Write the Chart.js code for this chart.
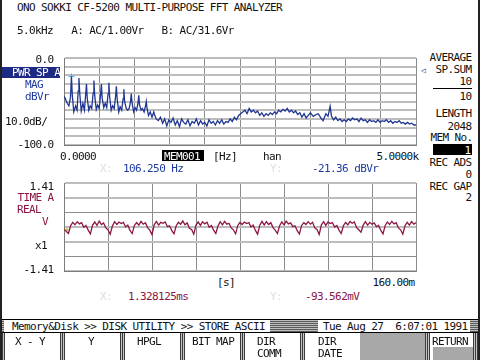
<!DOCTYPE html>
<html>
<head>
<meta charset="utf-8">
<script src="https://cdn.jsdelivr.net/npm/chart.js@4.4.1/dist/chart.umd.min.js"></script>
<style>
  body { margin: 0; background: #fff; }
  #screen { position: relative; width: 480px; height: 360px; background: #fff; overflow: hidden;
    font-family: "DejaVu Sans Mono", monospace; font-size: 11px; line-height: 11px; letter-spacing: -0.6px; color: #111; }
  #screen div, #screen canvas { position: absolute; }
  .r { text-align: right; white-space: pre; }
  .l { white-space: pre; }
  .blue { color: #1f3aa0; }
  .red { color: #8a1444; }
  .faint { color: #dedede; }
  .hatchH { background: repeating-linear-gradient(0deg, #5a5a5a 0 1px, #bdbdbd 1px 2px); }
  .hatchV { background: repeating-linear-gradient(90deg, #3a3a3a 0 1px, #c4c4c4 1px 2px); }
</style>
</head>
<body>
<div id="screen">
  <canvas id="specChart" width="362" height="97" style="left:59px;top:53px"></canvas>
  <canvas id="timeChart" width="362" height="98" style="left:59px;top:178px"></canvas>
</div>
<script>
// spectrum: PWR SP A, MAG, dBVr
const freqHz = [0, 20, 45, 70, 92, 106, 118, 139, 165, 186, 201, 212, 224, 245, 268, 290, 308, 319, 330, 352,
  372, 394, 414, 425, 436, 458, 478, 500, 520, 531, 542, 565, 585, 607, 626, 637, 648, 670, 690, 713,
  733, 744, 755, 778, 797, 820, 839, 850, 861, 884, 905, 926, 945, 956, 967, 990, 1010, 1031, 1051, 1062,
  1073, 1095, 1115, 1138, 1158, 1169, 1180, 1200, 1225, 1250, 1275, 1290, 1310, 1340, 1370, 1400, 1430, 1460, 1490, 1520,
  1550, 1580, 1610, 1640, 1670, 1700, 1730, 1760, 1790, 1820, 1850, 1880, 1910, 1940, 1970, 2000, 2030, 2060, 2090, 2120,
  2150, 2180, 2210, 2240, 2270, 2300, 2330, 2360, 2390, 2420, 2450, 2480, 2510, 2540, 2570, 2600, 2630, 2660, 2690, 2720,
  2750, 2780, 2810, 2840, 2870, 2900, 2930, 2960, 2990, 3020, 3050, 3080, 3110, 3140, 3170, 3200, 3230, 3260, 3290, 3320,
  3350, 3380, 3410, 3440, 3470, 3500, 3540, 3580, 3611, 3650, 3680, 3720, 3750, 3780, 3800, 3830, 3860, 3890, 3920, 3950,
  3980, 4010, 4040, 4070, 4100, 4130, 4160, 4190, 4220, 4250, 4280, 4310, 4340, 4370, 4400, 4430, 4460, 4490, 4520, 4550,
  4580, 4610, 4640, 4670, 4700, 4730, 4760, 4790, 4820, 4850, 4880, 4910, 4940, 4970, 5000];
const magDb = [-44, -47, -52, -55, -45, -21.4, -43, -62, -55, -60, -38, -23, -41, -61, -52, -60, -42, -30, -46, -60,
  -55, -58, -40, -26, -43, -59, -54, -58, -42, -30, -46, -57, -52, -57, -41, -28.5, -44, -60, -55, -58,
  -44, -32.5, -47, -62, -56, -60, -47, -36, -50, -58, -60, -58, -50, -41, -52, -62, -57, -60, -52, -43,
  -54, -60, -58, -62, -55, -50, -58, -66, -62, -68, -62, -66, -70, -72, -68, -75, -70, -78, -71, -74,
  -69, -77, -72, -79, -70, -74, -76, -71, -78, -73, -75, -70, -77, -72, -76, -74, -78, -71, -75, -73,
  -77, -72, -75, -71, -76, -73, -74, -70, -73, -68, -71, -66, -64, -62, -60, -64, -58, -62, -60, -63,
  -61, -66, -63, -67, -64, -66, -63, -65, -62, -64, -60, -62, -59, -61, -58, -62, -60, -63, -61, -65,
  -63, -68, -64, -69, -66, -63, -67, -65, -64, -69, -72, -64, -67, -55.5, -67, -71, -68, -72, -70, -73,
  -71, -73, -70, -72, -69, -71, -70, -73, -69, -72, -71, -74, -71, -73, -72, -74, -71, -74, -72, -73,
  -71, -74, -72, -75, -73, -74, -72, -75, -74, -76, -74, -76, -75, -77, -77];
const specCursor = { x: 106.25, y: -21.36 };

// time record: TIME A, REAL, V, one sample per ms
const SAMPLE_MS = 1;
const waveVolts = [-0.08, -0.14, -0.21,
  0.04, 0.15, 0.07, 0.17, 0.10, 0.14, -0.01, 0.05, -0.10, -0.22,
  0.06, 0.16, 0.05, 0.19, 0.08, 0.13, -0.03, -0.09, -0.23,
  0.03, 0.17, 0.08, 0.16, 0.11, 0.15, 0.00, 0.06, -0.11, -0.21,
  0.05, 0.14, 0.06, 0.18, 0.09, 0.14, -0.02, -0.10, -0.24,
  0.07, 0.18, 0.06, 0.15, 0.12, 0.16, 0.01, 0.04, -0.12, -0.22,
  0.04, 0.15, 0.09, 0.19, 0.07, 0.13, -0.04, -0.08, -0.23,
  0.06, 0.16, 0.05, 0.17, 0.10, 0.15, -0.01, 0.05, -0.10, -0.21,
  0.03, 0.17, 0.07, 0.18, 0.09, 0.12, -0.03, -0.09, -0.22,
  0.05, 0.15, 0.08, 0.16, 0.11, 0.14, 0.00, 0.06, -0.11, -0.23,
  0.06, 0.18, 0.06, 0.17, 0.08, 0.14, -0.02, -0.10, -0.21,
  0.04, 0.16, 0.07, 0.19, 0.10, 0.13, 0.01, 0.04, -0.12, -0.22,
  0.05, 0.14, 0.08, 0.17, 0.09, 0.15, -0.03, -0.08, -0.24,
  0.07, 0.17, 0.05, 0.16, 0.11, 0.14, 0.00, 0.05, -0.10, -0.21,
  0.04, 0.15, 0.07, 0.18, 0.12, 0.16, -0.02, -0.09, -0.17,
  0.06, 0.17, 0.06, 0.15, 0.09, 0.13, 0.01, 0.05, -0.11, -0.22,
  0.05, 0.16, 0.08, 0.18, 0.10, 0.14, -0.03, -0.09, -0.23,
  0.04, 0.15, 0.06, 0.17, 0.09, 0.14];
const timeCursor = { x: 1.328125, y: -0.093562 };
const timeGridVolts = [-1.41, -0.94, -0.47, 0, 0.47, 0.94, 1.41];

const screen = document.getElementById('screen');
function put(text, x, y, cls, align, extra) {
  const d = document.createElement('div');
  d.className = (align === 'r' ? 'r ' : 'l ') + (cls || '');
  d.textContent = text;
  d.style.top = (y - 1) + 'px';
  if (align === 'r') d.style.right = (480 - x - 0.6) + 'px'; else d.style.left = x + 'px';
  if (extra) Object.assign(d.style, extra);
  screen.appendChild(d);
  return d;
}
function box(x, y, w, h, cls, style) {
  const d = document.createElement('div');
  d.className = cls || '';
  Object.assign(d.style, { left: x + 'px', top: y + 'px', width: w + 'px', height: h + 'px' }, style || {});
  screen.appendChild(d);
}

// header
put('ONO SOKKI CF-5200 MULTI-PURPOSE FFT ANALYZER', 17, 3);
put('5.0kHz   A: AC/1.00Vr   B: AC/31.6Vr', 17, 26);

// spectrum labels
put('0.0', 53, 55, '', 'r');
box(2, 67, 58, 11, '', { background: '#1c2a84' });
put('PWR SP A', 12, 68, '', 'l', { color: '#fff' });
put('MAG', 25, 80, 'blue');
put('dBVr', 25, 92, 'blue');
put('10.0dB/', 5, 117);
put('-100.0', 53, 140, '', 'r');
put('0.0000', 60, 152);
box(162, 150, 42, 11, '', { background: '#000' });
put('MEM001', 164, 152, '', 'l', { color: '#fff' });
put('[Hz]', 213, 152);
put('han', 263, 152);
put('5.0000k', 418, 152, '', 'r');
put('X:', 100, 164, 'faint');
put('106.250 Hz', 123, 164, 'blue');
put('Y:', 270, 164, 'faint');
put('-21.36 dBVr', 312, 164, 'blue');

// right panel
put('AVERAGE', 471, 53, '', 'r');
put('\u25C1', 421, 66, 'blue', 'l', { fontSize: '8px' });
put('SP.SUM', 471, 65, '', 'r');
put('10', 471, 77, '', 'r');
box(433, 88, 39, 1, '', { background: '#000' });
put('10', 471, 92, '', 'r');
put('LENGTH', 471, 109, '', 'r');
put('2048', 471, 122, '', 'r');
put('MEM No.', 472, 133, '', 'r');
box(433, 144, 39, 11, '', { background: '#000' });
put('1', 470, 146, '', 'r', { color: '#fff' });
put('REC ADS', 471, 158, '', 'r');
put('0', 471, 170, '', 'r');
put('REC GAP', 471, 182, '', 'r');
put('2', 471, 193, '', 'r');

// time labels
put('1.41', 53, 182, '', 'r');
put('TIME A', 53, 193, 'red', 'r');
put('REAL', 17, 205, 'red');
put('V', 42, 217, 'red');
put('x1', 35, 241);
put('-1.41', 53, 265, '', 'r');
put('[s]', 217, 278);
put('160.00m', 414, 278, '', 'r');
put('X:', 100, 292, 'faint');
put('1.328125ms', 128, 292, 'red');
put('Y:', 270, 292, 'faint');
put('-93.562mV', 305, 292, 'red');

// footer: status bar and soft keys
box(0, 319, 480, 1, '', { background: '#000' });
box(0, 320, 4, 12, 'hatchH');
put('Memory&Disk >> DISK UTILITY >> STORE ASCII', 12, 322);
box(270, 320, 48, 12, 'hatchH');
put('Tue Aug 27  6:07:01 1991', 323, 322);
box(470, 320, 10, 12, 'hatchH');
box(0, 332, 480, 1, '', { background: '#000' });
[0, 60, 120, 180, 240, 300].forEach(x => box(x, 333, 5, 27, 'hatchV'));
box(360, 333, 65, 27, 'hatchH', { background: '#a8a8a8' });
box(425, 333, 5, 27, 'hatchV');
box(433, 347, 40, 13, '', { background: '#a8a8a8' });
box(473, 333, 7, 27, 'hatchV');
put('X - Y', 15, 337);
put('Y', 88, 337);
put('HPGL', 137, 337);
put('BIT MAP', 192, 337);
put('DIR', 257, 337);
put('COMM', 257, 349);
put('DIR', 318, 337);
put('DATE', 318, 349);
put('RETURN', 432, 337);

// frame edges
box(0, 0, 2, 360, '', { background: '#222' });
box(478, 0, 2, 360, '', { background: '#222' });

const baseOpts = {
  responsive: false,
  animation: false,
  layout: { padding: 1 },
  plugins: { legend: { display: false }, tooltip: { enabled: false } },
  elements: { point: { radius: 0 }, line: { tension: 0 } }
};

new Chart(document.getElementById('specChart'), {
  type: 'scatter',
  data: {
    datasets: [
      {
        data: freqHz.map((f, i) => ({ x: f, y: magDb[i] })),
        showLine: true, borderColor: '#1f3592', borderWidth: 1.3, pointRadius: 0
      },
      {
        data: [specCursor], pointStyle: 'cross', pointRadius: 3, borderColor: '#4aa8ff', borderWidth: 1
      }
    ]
  },
  options: Object.assign({}, baseOpts, {
    scales: {
      x: { type: 'linear', min: 0, max: 5000,
        ticks: { display: false, stepSize: 500 },
        grid: { color: '#8c8c8c', lineWidth: 1, drawTicks: false },
        border: { color: '#7c7c7c' } },
      y: { type: 'linear', min: -100, max: 0,
        ticks: { display: false, stepSize: 10 },
        grid: { color: '#bdbdbd', lineWidth: 2, drawTicks: false },
        border: { color: '#7c7c7c' } }
    }
  })
});

new Chart(document.getElementById('timeChart'), {
  type: 'scatter',
  data: {
    datasets: [
      {
        data: waveVolts.map((v, i) => ({ x: i * SAMPLE_MS, y: v })),
        showLine: true, borderColor: '#8c1646', borderWidth: 1.3, pointRadius: 0
      },
      {
        data: [timeCursor], pointStyle: 'cross', pointRadius: 2.5, borderColor: '#b8b030', borderWidth: 1
      }
    ]
  },
  options: Object.assign({}, baseOpts, {
    scales: {
      x: { type: 'linear', min: 0, max: 160,
        ticks: { display: false, stepSize: 20 },
        grid: { color: '#8c8c8c', lineWidth: 1, drawTicks: false },
        border: { color: '#7c7c7c' } },
      y: { type: 'linear', min: -1.41, max: 1.41,
        afterBuildTicks: s => { s.ticks = timeGridVolts.map(v => ({ value: v })); },
        ticks: { display: false },
        grid: {
          color: c => (c.index === 1 || c.index === 4) ? '#8c8c8c' : '#bdbdbd',
          lineWidth: c => (c.index === 1 || c.index === 4) ? 1 : 2,
          drawTicks: false },
        border: { color: '#7c7c7c' } }
    }
  })
});
</script>
</body>
</html>
